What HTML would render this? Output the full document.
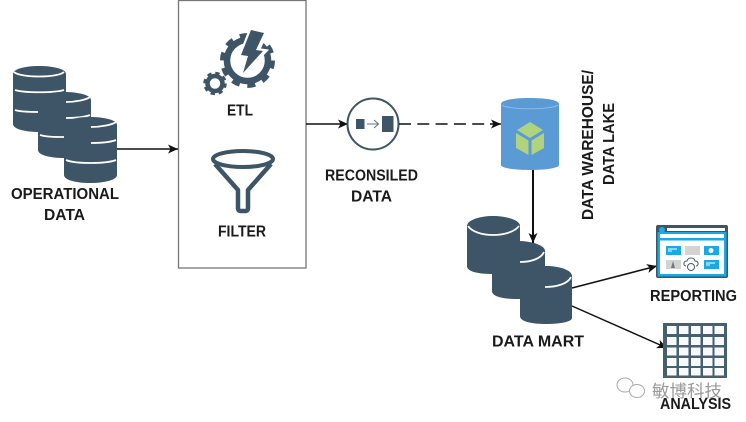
<!DOCTYPE html>
<html>
<head>
<meta charset="utf-8">
<style>
html,body{margin:0;padding:0;background:#fff;width:746px;height:422px;overflow:hidden}
svg{display:block;filter:blur(0.35px)}
text{font-family:"Liberation Sans",sans-serif;font-weight:bold;font-size:15.5px;fill:#1a1a1a}
.c{fill:#3d5566}
.w{fill:none;stroke:#fff;stroke-width:1.8}
.l{stroke:#111;stroke-width:1.5;fill:none}
</style>
</head>
<body>
<svg width="746" height="422" viewBox="0 0 746 422" xmlns="http://www.w3.org/2000/svg">
<defs>
<marker id="a" markerUnits="userSpaceOnUse" markerWidth="12" markerHeight="11" refX="10" refY="5" orient="auto"><path d="M0 0.500L10 5L0 9.500L2.500 5Z" fill="#111"/></marker>
<g id="cy">
<path class="c" d="M0 8C0 3 12 0 26 0S53 3 53 8V58C53 63 40 66 26 66S0 63 0 58Z"/>
</g>
</defs>

<!-- ETL box -->
<rect x="178.5" y="0.5" width="127.500" height="267.500" fill="#fff" stroke="#777" stroke-width="1.300"/>

<!-- Operational data -->
<use href="#cy" x="13" y="66"/>
<path class="w" d="M14 72C20 78 58 78 64 72"/>
<path class="w" d="M15 90C24 93 55 93 64 90"/>
<path class="w" d="M15 110C21 112 30 112 38 112"/>
<use href="#cy" x="38" y="92"/>
<path class="w" d="M66 102C75 102 86 100 90 97"/>
<path class="w" d="M66 118C75 118 85 117 90 115"/>
<path class="w" d="M40 135C47 137 55 137 64 137"/>
<use href="#cy" x="64" y="117"/>
<path class="w" d="M91 127C100 127 112 125 116 122"/>
<path class="w" d="M91 143C100 143 111 142 116 140"/>
<path class="w" d="M66 160C75 164 106 164 116 160"/>
<path class="l" d="M117 149H178" marker-end="url(#a)"/>
<text x="11" y="199" textLength="108" lengthAdjust="spacingAndGlyphs">OPERATIONAL</text>
<text x="44" y="220" textLength="41" lengthAdjust="spacingAndGlyphs">DATA</text>

<!-- Gears -->
<circle cx="247.500" cy="60.500" r="20.500" fill="none" stroke="#3d5566" stroke-width="6.500"/>
<circle cx="247.500" cy="60.500" r="25" fill="none" stroke="#3d5566" stroke-width="5" stroke-dasharray="8 7.700"/>
<path d="M251 29L266 33L258 50L265 51L243 74L249 56L241 55Z" fill="#fff" stroke="#fff" stroke-width="4"/>
<path d="M251 30L264 33L256 50L263 51L243 73L248 56L241 55Z" fill="#3d5566"/>
<circle cx="215" cy="83.500" r="7.500" fill="none" stroke="#3d5566" stroke-width="4.500"/>
<circle cx="215" cy="83.500" r="10" fill="none" stroke="#3d5566" stroke-width="3.500" stroke-dasharray="4.200 3.650"/>
<text x="227" y="115.500" textLength="26" lengthAdjust="spacingAndGlyphs">ETL</text>

<!-- Funnel -->
<path d="M215 164L238 190V208Q238 211 241 211H245Q248 211 248 208V190L271 164" fill="none" stroke="#3d5566" stroke-width="4.500" stroke-linejoin="round"/>
<ellipse cx="243" cy="159" rx="30" ry="8" fill="#fff" stroke="#3d5566" stroke-width="4"/>
<text x="218" y="236.500" textLength="48" lengthAdjust="spacingAndGlyphs">FILTER</text>

<!-- Reconciled -->
<path class="l" d="M306 124H348" marker-end="url(#a)"/>
<circle cx="373" cy="124" r="25.500" fill="#fff" stroke="#3d5566" stroke-width="2"/>
<rect x="356" y="119" width="8.500" height="10" fill="#3d5566"/>
<rect x="382" y="116" width="11.500" height="16" fill="#3d5566"/>
<path d="M367 124H378M374 120L378.500 124L374 128" fill="none" stroke="#5d7484" stroke-width="1"/>
<path class="l" d="M399 124H491" stroke-dasharray="12 6.300"/>
<path class="l" d="M490 124H501" marker-end="url(#a)"/>
<text x="325" y="180.500" textLength="93" lengthAdjust="spacingAndGlyphs">RECONSILED</text>
<text x="351" y="201.500" textLength="41" lengthAdjust="spacingAndGlyphs">DATA</text>

<!-- Data warehouse -->
<path d="M501 104C501 100 514 98 530 98S559 100 559 104V165C559 168 546 170 530 170S501 168 501 165Z" fill="#5b9bd5"/>
<path d="M502 105C508 110 552 110 558 105" fill="none" stroke="#8fbde6" stroke-width="1"/>
<path d="M530 122L543 130L530 138L517 130Z" fill="#b0d37e"/>
<path d="M516 133L528.500 140.500V155L516 148Z" fill="#b0d37e"/>
<path d="M544 133L531.500 140.500V155L544 148Z" fill="#b0d37e"/>
<text transform="translate(593 220) rotate(-90)" x="0" y="0" textLength="150" lengthAdjust="spacingAndGlyphs">DATA WAREHOUSE/</text>
<text transform="translate(614 185) rotate(-90)" x="0" y="0" textLength="82" lengthAdjust="spacingAndGlyphs">DATA LAKE</text>

<!-- Data mart -->
<path class="c" d="M467 226C467 220 480 216 493 216S520 220 520 226V268C520 272 507 274 493 274S467 272 467 266Z"/>
<path class="w" d="M468 226C476 238 510 238 519 226"/>
<path class="c" d="M492 250C492 245 505 241 518 241S545 245 545 251V293C545 297 532 299 518 299S492 297 492 291Z"/>
<path class="w" d="M520 262C530 262 541 259 544 252"/>
<path class="c" d="M520 276C520 270 533 266 546 266S572 270 572 276V318C572 322 559 324 546 324S520 322 520 316Z"/>
<path class="w" d="M545 287C556 287 568 284 571 277"/>
<path d="M533 170V243" stroke="#111" stroke-width="2" fill="none" marker-end="url(#a)"/>
<text x="492" y="346.500" textLength="92" lengthAdjust="spacingAndGlyphs">DATA MART</text>

<!-- Connectors -->
<path class="l" d="M572 288L657 266" marker-end="url(#a)"/>
<path class="l" d="M572 306L667 348" marker-end="url(#a)"/>

<!-- Reporting -->
<rect x="656" y="225" width="72" height="53" rx="2" fill="#3d5566"/>
<rect x="657.500" y="232" width="69" height="44.500" fill="#18a9e6"/>
<circle cx="662" cy="230" r="3" fill="#18a9e6"/>
<rect x="667" y="228" width="58" height="3" fill="#fff"/>
<rect x="660" y="234" width="64" height="40" fill="#fff"/>
<rect x="660" y="238" width="64" height="2.500" fill="#18a9e6"/>
<rect x="666" y="246" width="15" height="9" fill="#18a9e6"/>
<path d="M668 249H677M668 251H672" stroke="#fff" stroke-width="1"/>
<rect x="685" y="246" width="15" height="9" fill="#d3d3d3"/>
<rect x="704" y="246" width="15" height="9" fill="#18a9e6"/>
<circle cx="711" cy="250.500" r="2.500" fill="#fff"/>
<rect x="666" y="260" width="15" height="9" fill="#d3d3d3"/>
<path d="M671 268L673 261L675 268Z" fill="#6a7a85"/>
<rect x="704" y="260" width="15" height="9" fill="#18a9e6"/>
<path d="M706 263H715M706 265H710" stroke="#fff" stroke-width="1"/>
<path d="M686 266C683 266 683 261 687 261C688 257 694 257 695 261C699 261 699 266 696 266" fill="#fff" stroke="#4a5c68" stroke-width="1"/>
<circle cx="691" cy="267" r="3.500" fill="#fff" stroke="#4a5c68" stroke-width="1"/>
<text x="650" y="301" textLength="87" lengthAdjust="spacingAndGlyphs">REPORTING</text>

<!-- Analysis -->
<rect x="663" y="323" width="64" height="55" fill="#46606f"/>
<g fill="#f7f9fa">
<rect x="667" y="326" width="9.500" height="8"/><rect x="679" y="326" width="9.500" height="8"/><rect x="691" y="326" width="9.500" height="8"/><rect x="703" y="326" width="9.500" height="8"/><rect x="714.500" y="326" width="9.500" height="8"/>
<rect x="667" y="337" width="9.500" height="8"/><rect x="679" y="337" width="9.500" height="8"/><rect x="691" y="337" width="9.500" height="8"/><rect x="703" y="337" width="9.500" height="8"/><rect x="714.500" y="337" width="9.500" height="8"/>
<rect x="667" y="347.500" width="9.500" height="8"/><rect x="679" y="347.500" width="9.500" height="8"/><rect x="691" y="347.500" width="9.500" height="8"/><rect x="703" y="347.500" width="9.500" height="8"/><rect x="714.500" y="347.500" width="9.500" height="8"/>
<rect x="667" y="358" width="9.500" height="8"/><rect x="679" y="358" width="9.500" height="8"/><rect x="691" y="358" width="9.500" height="8"/><rect x="703" y="358" width="9.500" height="8"/><rect x="714.500" y="358" width="9.500" height="8"/>
<rect x="667" y="368" width="9.500" height="7.500"/><rect x="679" y="368" width="9.500" height="7.500"/><rect x="691" y="368" width="9.500" height="7.500"/><rect x="703" y="368" width="9.500" height="7.500"/><rect x="714.500" y="368" width="9.500" height="7.500"/>
</g>

<!-- Watermark -->
<ellipse cx="625" cy="385" rx="8" ry="7" fill="#fff" stroke="#aaa" stroke-width="1"/>
<ellipse cx="637" cy="391" rx="7.500" ry="6.500" fill="#fff" stroke="#aaa" stroke-width="1"/>
<text x="652" y="397" textLength="70" lengthAdjust="spacingAndGlyphs" style="font-family:'Liberation Sans','Noto Sans CJK SC',sans-serif;font-size:17px;font-weight:normal;fill:#9a9a9a">敏博科技</text>
<text x="660" y="409" textLength="71" lengthAdjust="spacingAndGlyphs">ANALYSIS</text>
</svg>
</body>
</html>
